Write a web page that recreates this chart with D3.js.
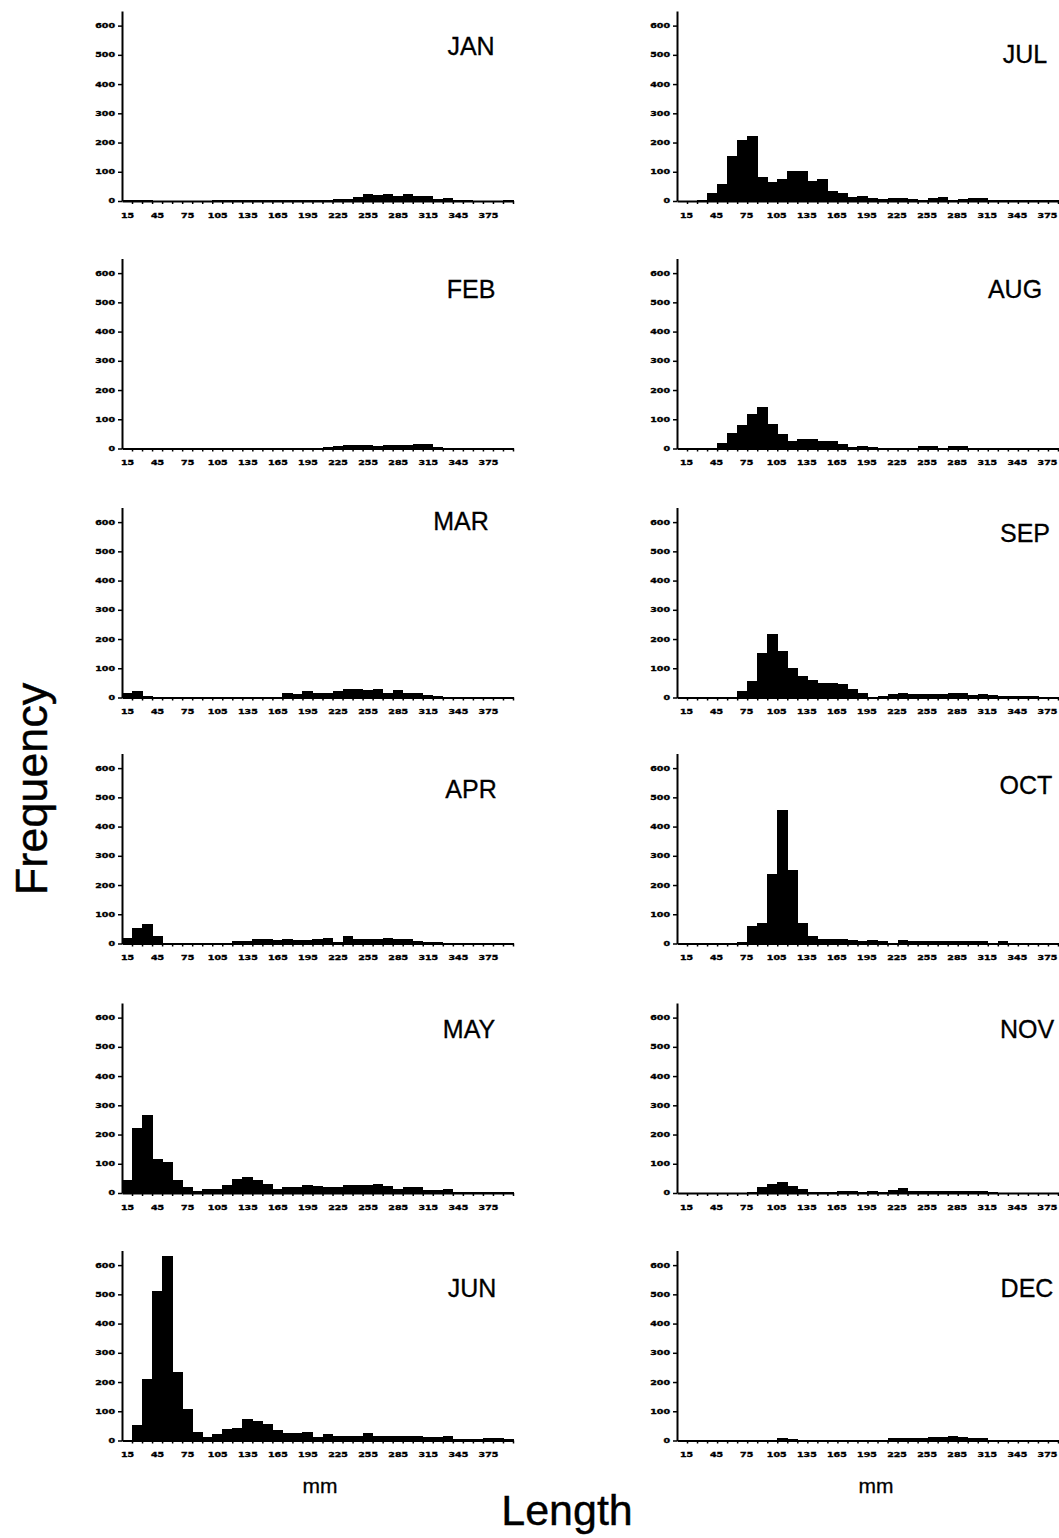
<!DOCTYPE html>
<html>
<head>
<meta charset="utf-8">
<script src="https://cdn.jsdelivr.net/npm/d3@7"></script>
<style>
  body { margin: 0; background: #fff; }
  svg { display: block; }
</style>
</head>
<body>
<div id="chart"></div>
<script>
// length classes (mm): bin centres, each bin 10 mm wide
const bins = [15, 25, 35, 45, 55, 65, 75, 85, 95, 105, 115, 125, 135, 145, 155, 165, 175, 185, 195, 205,
  215, 225, 235, 245, 255, 265, 275, 285, 295, 305, 315, 325, 335, 345, 355, 365, 375, 385, 395];
const xTickLabels = [15, 45, 75, 105, 135, 165, 195, 225, 255, 285, 315, 345, 375];
const yTicks = [0, 100, 200, 300, 400, 500, 600];
const months = ["JAN", "FEB", "MAR", "APR", "MAY", "JUN", "JUL", "AUG", "SEP", "OCT", "NOV", "DEC"];

// frequency per length class
const jan = [2, 4, 2, 1, 1, 1, 1, 1, 1, 2, 3, 2, 3, 3, 2, 2, 2, 2, 2, 2, 3, 8, 8, 12, 25, 20, 25, 18, 24, 18, 18, 6, 10, 4, 2, 1, 1, 1, 2];
const feb = [1, 1, 3, 2, 1, 1, 1, 1, 1, 1, 1, 1, 1, 1, 2, 2, 3, 3, 3, 3, 5, 10, 13, 11, 11, 10, 12, 11, 13, 16, 14, 6, 3, 1, 1, 2, 1, 2, 2];
const mar = [14, 23, 4, 2, 1, 1, 2, 1, 1, 2, 3, 2, 2, 3, 3, 3, 17, 13, 21, 17, 17, 23, 30, 28, 26, 30, 14, 24, 15, 15, 8, 4, 3, 1, 1, 1, 1, 1, 1];
const apr = [20, 52, 67, 26, 3, 2, 2, 2, 2, 2, 3, 8, 8, 14, 14, 12, 14, 12, 12, 16, 18, 6, 24, 17, 16, 14, 20, 15, 17, 8, 5, 4, 1, 1, 1, 1, 1, 1, 1];
const may = [43, 224, 268, 117, 107, 45, 20, 8, 12, 12, 29, 49, 55, 45, 30, 12, 20, 20, 29, 25, 20, 22, 28, 26, 28, 32, 24, 15, 22, 21, 9, 11, 12, 5, 4, 4, 4, 4, 4];
const jun = [1, 52, 211, 512, 631, 234, 108, 29, 12, 23, 41, 44, 73, 67, 58, 35, 25, 27, 29, 12, 21, 14, 14, 16, 27, 17, 17, 16, 15, 14, 12, 13, 14, 6, 6, 5, 7, 8, 6];
const jul = [1, 1, 3, 28, 57, 155, 208, 222, 83, 66, 74, 104, 104, 68, 74, 35, 26, 15, 17, 9, 7, 9, 9, 6, 5, 9, 12, 3, 7, 9, 9, 4, 3, 3, 2, 3, 3, 2, 2];
const aug = [0, 0, 0, 1, 19, 53, 82, 118, 142, 84, 48, 27, 33, 33, 27, 25, 16, 6, 8, 6, 2, 2, 2, 3, 8, 9, 3, 9, 8, 3, 2, 2, 2, 2, 2, 2, 2, 2, 2];
const sep = [1, 1, 1, 1, 1, 1, 21, 57, 152, 217, 158, 100, 72, 59, 51, 48, 46, 29, 17, 3, 6, 11, 15, 11, 11, 11, 11, 15, 17, 8, 11, 8, 6, 4, 4, 4, 3, 3, 3];
const oct = [2, 1, 1, 1, 1, 1, 6, 60, 69, 239, 456, 253, 69, 25, 17, 17, 17, 11, 9, 11, 8, 3, 11, 9, 8, 10, 10, 8, 7, 8, 7, 3, 8, 2, 2, 2, 2, 2, 2];
const nov = [1, 1, 1, 1, 1, 1, 1, 2, 20, 32, 37, 25, 14, 3, 3, 3, 6, 6, 2, 6, 3, 11, 16, 7, 6, 7, 8, 7, 8, 6, 7, 2, 1, 1, 1, 1, 1, 1, 1];
const dec = [1, 1, 1, 1, 2, 2, 2, 1, 2, 2, 7, 5, 2, 1, 1, 1, 1, 1, 1, 1, 3, 8, 8, 10, 9, 13, 13, 16, 11, 7, 8, 2, 1, 2, 2, 1, 2, 1, 1];
const counts = [jan, feb, mar, apr, may, jun, jul, aug, sep, oct, nov, dec];

// layout
const width = 1059;
const height = 1538;
const colX = [122, 677];
const rowBase = [201, 448.5, 697.5, 943.5, 1193, 1440.5];
const plotW = 391;
const plotH = 190;
const labelShift = [0, 4];
// month name: centre x, baseline y
const monthPos = [[471, 55], [471, 298], [461, 530], [471, 798], [469, 1038], [472, 1297],
  [1025, 63], [1015, 298], [1025, 542], [1026, 794], [1027, 1038], [1027, 1297]];

const tickFont = "'DejaVu Sans', sans-serif";
const labelFont = "'Liberation Sans', Arial, Helvetica, sans-serif";

const svg = d3.select("#chart")
  .append("svg")
  .attr("width", width)
  .attr("height", height)
  .style("background", "#fff");

const x = d3.scaleLinear().domain([10, 400]).range([0, plotW]);
const y = d3.scaleLinear().domain([0, 650]).range([plotH, 0]);

months.forEach(function (m, i) {
  const col = Math.floor(i / 6);
  const row = i % 6;
  const g = svg.append("g")
    .attr("transform", "translate(" + colX[col] + "," + (rowBase[row] - plotH) + ")");

  // bars (adjacent classes merge into one solid block, as in the print)
  g.selectAll("rect")
    .data(bins.map(function (b, j) { return { b: b, v: counts[i][j] }; }).filter(function (d) { return d.v > 0; }))
    .enter()
    .append("rect")
    .attr("x", function (d) { return x(d.b - 5); })
    .attr("width", function (d) { return x(d.b + 5) - x(d.b - 5) + 0.6; })
    .attr("y", function (d) { return y(d.v); })
    .attr("height", function (d) { return y(0) - y(d.v); })
    .attr("fill", "#000")
    .attr("shape-rendering", "crispEdges");

  // x axis with a tick at every class boundary
  const edges = bins.map(function (b) { return b + 5; });
  const xAxis = g.append("g")
    .attr("transform", "translate(0," + plotH + ")")
    .call(d3.axisBottom(x).tickValues(edges).tickSize(3).tickSizeOuter(0).tickFormat(""));
  xAxis.select(".domain").attr("stroke-width", 2);
  xAxis.selectAll(".tick line").attr("stroke-width", 1.5);

  // x labels at class centres
  const xLab = g.append("g")
    .attr("transform", "translate(0," + plotH + ")")
    .call(d3.axisBottom(x).tickValues(xTickLabels).tickSize(0));
  xLab.select(".domain").remove();
  xLab.selectAll("text")
    .attr("font-family", tickFont)
    .attr("font-weight", "bold")
    .attr("font-size", 9.5)
    .attr("stroke", "#000")
    .attr("stroke-width", 0.5)
    .attr("x", labelShift[col])
    .attr("y", 26)
    .attr("dy", 0)
    .attr("transform", "scale(1,0.65)");

  // y axis
  const yAxis = g.append("g")
    .call(d3.axisLeft(y).tickValues(yTicks).tickSize(4).tickPadding(3).tickSizeOuter(0));
  yAxis.select(".domain").attr("stroke-width", 2);
  yAxis.selectAll(".tick line").attr("stroke-width", 1.5);
  yAxis.selectAll("text")
    .attr("font-family", tickFont)
    .attr("font-weight", "bold")
    .attr("font-size", 9.5)
    .attr("stroke", "#000")
    .attr("stroke-width", 0.5)
    .attr("transform", "scale(1,0.65)");

  // month name
  svg.append("text")
    .attr("x", monthPos[i][0])
    .attr("y", monthPos[i][1])
    .attr("text-anchor", "middle")
    .attr("font-family", labelFont)
    .attr("font-size", 25)
    .attr("stroke", "#000")
    .attr("stroke-width", 0.3)
    .text(m);
});

// unit labels under the bottom panels
[0, 1].forEach(function (col) {
  svg.append("text")
    .attr("x", col === 0 ? 320 : 876)
    .attr("y", 1493)
    .attr("text-anchor", "middle")
    .attr("font-family", labelFont)
    .attr("font-size", 21)
    .attr("stroke", "#000")
    .attr("stroke-width", 0.3)
    .text("mm");
});

svg.append("text")
  .attr("x", 567)
  .attr("y", 1525)
  .attr("text-anchor", "middle")
  .attr("font-family", labelFont)
  .attr("font-size", 43)
  .attr("stroke", "#000")
  .attr("stroke-width", 0.4)
  .text("Length");

svg.append("text")
  .attr("transform", "translate(47,789) rotate(-90)")
  .attr("text-anchor", "middle")
  .attr("font-family", labelFont)
  .attr("font-size", 45)
  .attr("stroke", "#000")
  .attr("stroke-width", 0.4)
  .text("Frequency");
</script>
</body>
</html>
